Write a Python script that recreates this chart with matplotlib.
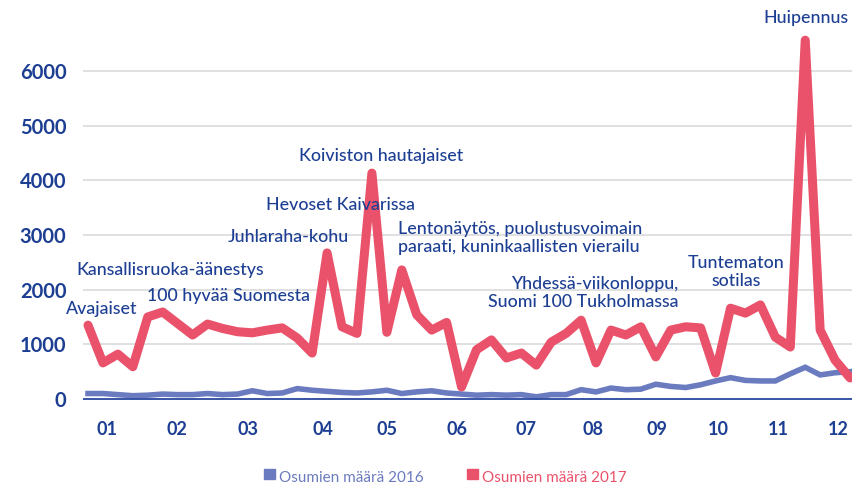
import matplotlib
matplotlib.use("Agg")
import matplotlib.pyplot as plt
from matplotlib.patches import Rectangle

plt.rcParams['font.family'] = ['Lato', 'DejaVu Sans']

# weekly hits
hits_2017 = [1350, 660, 820, 590, 1500, 1590, 1380, 1170, 1370, 1290,
             1230, 1210, 1260, 1300, 1115, 840, 2670, 1320, 1200, 4130,
             1220, 2360, 1540, 1260, 1400, 220, 900, 1080, 750, 840,
             620, 1040, 1200, 1440, 660, 1260, 1170, 1320, 770, 1260,
             1320, 1300, 475, 1660, 1570, 1720, 1130, 950, 6560, 1260,
             710, 385]
hits_2016 = [100, 100, 80, 60, 70, 90, 80, 80, 100, 80,
             90, 150, 100, 110, 190, 160, 140, 120, 110, 130,
             160, 100, 130, 150, 110, 90, 70, 80, 70, 80,
             40, 80, 80, 170, 130, 200, 170, 180, 270, 230,
             210, 260, 330, 390, 340, 330, 330, 460, 580, 440,
             480, 500]
weeks = list(range(len(hits_2017)))

month_pos = [1.27, 5.96, 10.71, 15.73, 20.0, 24.7, 29.3, 33.8, 38.1, 42.2, 46.2, 50.2]
month_labels = ['01', '02', '03', '04', '05', '06', '07', '08', '09', '10', '11', '12']
y_ticks = [0, 1000, 2000, 3000, 4000, 5000, 6000]

# (text, x in weeks, y value, alignment)
notes = [
    ('Huipennus', 48.05, 6960, 'center'),
    ('Koiviston hautajaiset', 19.6, 4440, 'center'),
    ('Hevoset Kaivarissa', 16.9, 3550, 'center'),
    ('Lentonäytös, puolustusvoimain\nparaati, kuninkaallisten vierailu', 20.75, 2940, 'left'),
    ('Juhlaraha-kohu', 13.4, 2960, 'center'),
    ('Kansallisruoka-äänestys', 5.5, 2360, 'center'),
    ('100 hyvää Suomesta', 9.4, 1880, 'center'),
    ('Avajaiset', 0.94, 1645, 'center'),
    ('Yhdessä-viikonloppu,\nSuomi 100 Tukholmassa', 39.5, 1940, 'right'),
    ('Tuntematon\nsotilas', 43.4, 2320, 'center'),
]

navy = '#1d3f93'
red = '#e9526a'
blue = '#6b7bbf'

fig = plt.figure(figsize=(8.52, 4.86), dpi=100)
ax = fig.add_axes([83 / 852, 66 / 486, 769 / 852, 410 / 486])

ax.plot(weeks, hits_2016, color=blue, lw=4.0, solid_joinstyle='miter', zorder=3)
ax.plot(weeks, hits_2017, color=red, lw=6.5, solid_capstyle='round', zorder=4)
ax.axhline(0, color='#2b4aa0', lw=1.3, zorder=5)

ax.set_xlim(-0.335, 51.13)
ax.set_ylim(-384, 7112)
ax.set_yticks(y_ticks)
ax.set_yticklabels([str(v) for v in y_ticks], fontsize=14.5, fontweight='bold', color=navy)
ax.set_xticks(month_pos)
ax.set_xticklabels(month_labels, fontsize=13, fontweight='bold', color=navy)
ax.tick_params(length=0)
ax.tick_params(axis='y', pad=12)
ax.tick_params(axis='x', pad=1)
ax.grid(axis='y', color='#dadada', lw=1.2)
ax.grid(axis='x', visible=False)
for s in ax.spines.values():
    s.set_visible(False)

for text, x, y, ha in notes:
    ax.text(x, y, text, ha=ha, va='center', fontsize=12.8, color=navy,
            fontweight='medium', linespacing=1.2, zorder=6)

# legend
for x0, label, c in [(264, 'Osumien määrä 2016', blue), (467, 'Osumien määrä 2017', red)]:
    fig.patches.append(Rectangle((x0 / 852, 7 / 486), 11 / 852, 10 / 486,
                                 transform=fig.transFigure, color=c))
    fig.text((x0 + 15) / 852, 4 / 486, label, fontsize=11, color=c, va='baseline')

fig.savefig('out.png', dpi=100)
